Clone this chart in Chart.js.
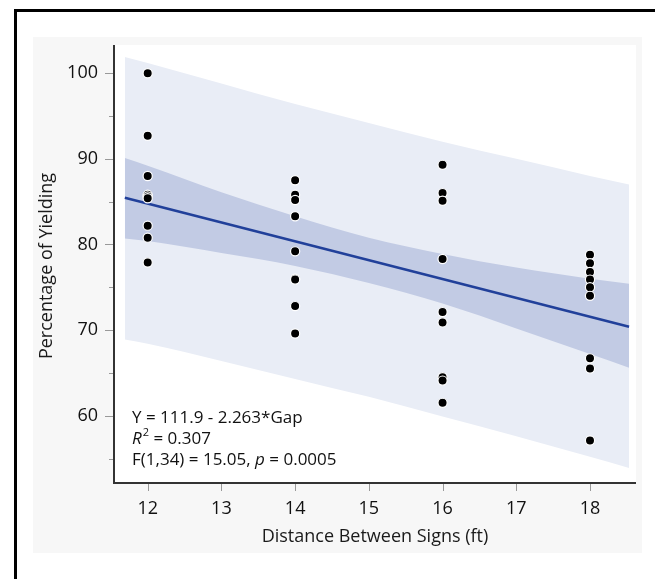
<!DOCTYPE html>
<html>
<head>
<meta charset="utf-8">
<script src="https://cdn.jsdelivr.net/npm/chart.js@4"></script>
<style>
  html, body { margin: 0; padding: 0; background: #fff; }
  #chart { display: block; }
</style>
</head>
<body>
<canvas id="chart" width="655" height="579"></canvas>
<script>
// Yielding vs. sign gap - scatter with fitted line, confidence and prediction bands

const gapValues = [12, 12, 12, 12, 12, 12, 12, 12, 12,
                   14, 14, 14, 14, 14, 14, 14, 14, 14,
                   16, 16, 16, 16, 16, 16, 16, 16, 16,
                   18, 18, 18, 18, 18, 18, 18, 18, 18];
const yieldValues = [100, 92.7, 88.0, 85.8, 85.6, 85.4, 82.2, 80.8, 77.9,
                     87.5, 85.8, 85.2, 83.3, 79.2, 76.0, 75.9, 72.8, 69.6,
                     89.3, 86.0, 85.1, 78.3, 72.1, 70.9, 64.5, 64.1, 61.5,
                     78.8, 77.8, 76.8, 75.9, 75.0, 74.0, 66.7, 65.5, 57.1];

// fitted line end points
const fitX = [11.69, 18.53];
const fitY = [85.45, 70.4];

// bands read at these gaps
const bandX = [11.69, 12, 13, 14, 15, 16, 17, 18, 18.53];
const confUpper = [90.1, 89.2, 86.1, 83.3, 80.8, 78.9, 77.3, 76.0, 75.4];
const confLower = [80.7, 80.4, 79.0, 77.5, 75.5, 73.1, 70.2, 67.2, 65.6];
const predUpper = [101.9, 101.2, 98.8, 96.4, 94.2, 92.0, 90.0, 88.0, 87.0];
const predLower = [68.9, 68.4, 66.4, 64.3, 62.2, 59.9, 57.6, 55.2, 53.9];

const xTicks = [12, 13, 14, 15, 16, 17, 18];
const yTicks = [60, 70, 80, 90, 100];
const yMinorTicks = [55, 65, 75, 85, 95];

const FONT = '"Open Sans", "Noto Sans", sans-serif';

const pts = (xs, ys) => xs.map((x, i) => ({ x: x, y: ys[i] }));

const framePlugin = {
  id: 'frame',
  beforeDraw(chart) {
    const ctx = chart.ctx, a = chart.chartArea;
    ctx.save();
    ctx.fillStyle = '#ffffff';
    ctx.fillRect(0, 0, chart.width, chart.height);
    // outer black frame (only top and left visible)
    ctx.fillStyle = '#000';
    ctx.fillRect(14, 9, chart.width - 14, 3);
    ctx.fillRect(14, 9, 3, chart.height - 9);
    // grey panel
    ctx.fillStyle = '#f7f7f7';
    ctx.fillRect(33, 37, 609, 516);
    ctx.fillStyle = '#ffffff';
    ctx.fillRect(a.left, a.top, a.right - a.left, a.bottom - a.top);
    ctx.restore();
  },
  afterDraw(chart) {
    const ctx = chart.ctx, a = chart.chartArea;
    const xs = chart.scales.x, ys = chart.scales.y;
    ctx.save();
    // tick marks
    ctx.strokeStyle = '#999';
    ctx.lineWidth = 1;
    ctx.beginPath();
    yTicks.forEach(v => { const p = Math.round(ys.getPixelForValue(v)) + 0.5; ctx.moveTo(a.left - 9, p); ctx.lineTo(a.left, p); });
    yMinorTicks.forEach(v => { const p = Math.round(ys.getPixelForValue(v)) + 0.5; ctx.moveTo(a.left - 5, p); ctx.lineTo(a.left, p); });
    xTicks.forEach(v => { const p = Math.round(xs.getPixelForValue(v)) + 0.5; ctx.moveTo(p, a.bottom); ctx.lineTo(p, a.bottom + 8); });
    ctx.stroke();
    // axis lines
    ctx.strokeStyle = '#333';
    ctx.lineWidth = 2;
    ctx.beginPath();
    ctx.moveTo(a.left, a.top);
    ctx.lineTo(a.left, a.bottom);
    ctx.lineTo(a.right, a.bottom);
    ctx.stroke();

    // axis titles
    ctx.fillStyle = '#1a1a1a';
    ctx.font = '18px ' + FONT;
    ctx.textAlign = 'center';
    ctx.textBaseline = 'middle';
    ctx.fillText('Distance Between Signs (ft)', (a.left + a.right) / 2, 537);
    ctx.translate(47, 266);
    ctx.rotate(-Math.PI / 2);
    ctx.fillText('Percentage of Yielding', 0, 0);
    ctx.restore();

    // regression summary
    ctx.save();
    ctx.fillStyle = '#111';
    ctx.textAlign = 'left';
    ctx.textBaseline = 'alphabetic';
    const x0 = 132;
    const put = (txt, x, y, font) => { ctx.font = font; ctx.fillText(txt, x, y); return x + ctx.measureText(txt).width; };
    const reg = '17px ' + FONT, ital = 'italic 17px ' + FONT, sup = '11px ' + FONT;
    put('Y = 111.9 - 2.263*Gap', x0, 423, reg);
    let x = put('R', x0, 444, ital);
    x = put('2', x + 1, 436, sup);
    put(' = 0.307', x, 444, reg);
    x = put('F(1,34) = 15.05, ', x0, 465, reg);
    x = put('p', x, 465, ital);
    put(' = 0.0005', x, 465, reg);
    ctx.restore();
  }
};

new Chart(document.getElementById('chart'), {
  type: 'scatter',
  data: {
    datasets: [
      { type: 'line', data: pts(gapValues, yieldValues), showLine: false, order: 0,
        pointRadius: 4.6, pointBackgroundColor: '#000', pointBorderColor: '#fff', pointBorderWidth: 1.2 },
      { type: 'line', data: pts(fitX, fitY), order: 1, borderColor: '#21409a', borderWidth: 2.5,
        pointRadius: 0, fill: false },
      { type: 'line', data: pts(bandX, confUpper), order: 2, borderWidth: 0, pointRadius: 0,
        cubicInterpolationMode: 'monotone', fill: '+1', backgroundColor: '#c2cbe4' },
      { type: 'line', data: pts(bandX, confLower), order: 2, borderWidth: 0, pointRadius: 0,
        cubicInterpolationMode: 'monotone', fill: false },
      { type: 'line', data: pts(bandX, predUpper), order: 3, borderWidth: 0, pointRadius: 0,
        cubicInterpolationMode: 'monotone', fill: '+1', backgroundColor: '#e9edf6' },
      { type: 'line', data: pts(bandX, predLower), order: 3, borderWidth: 0, pointRadius: 0,
        cubicInterpolationMode: 'monotone', fill: false }
    ]
  },
  options: {
    responsive: false,
    animation: false,
    devicePixelRatio: 1,
    layout: { padding: { left: 0, top: 45, right: 19, bottom: 0 } },
    plugins: { legend: { display: false }, tooltip: { enabled: false } },
    scales: {
      x: {
        type: 'linear', min: 11.543, max: 18.624,
        grid: { display: false }, border: { display: false },
        afterBuildTicks: s => { s.ticks = xTicks.map(v => ({ value: v })); },
        afterFit: s => { s.height = 96; },
        ticks: { color: '#111', padding: 7, font: { family: FONT, size: 18 } }
      },
      y: {
        type: 'linear', min: 52.14, max: 103.3,
        grid: { display: false }, border: { display: false },
        afterBuildTicks: s => { s.ticks = yTicks.map(v => ({ value: v })); },
        afterFit: s => { s.width = 114; },
        ticks: { color: '#111', padding: 8, font: { family: FONT, size: 18 } }
      }
    }
  },
  plugins: [framePlugin]
});
</script>
</body>
</html>
